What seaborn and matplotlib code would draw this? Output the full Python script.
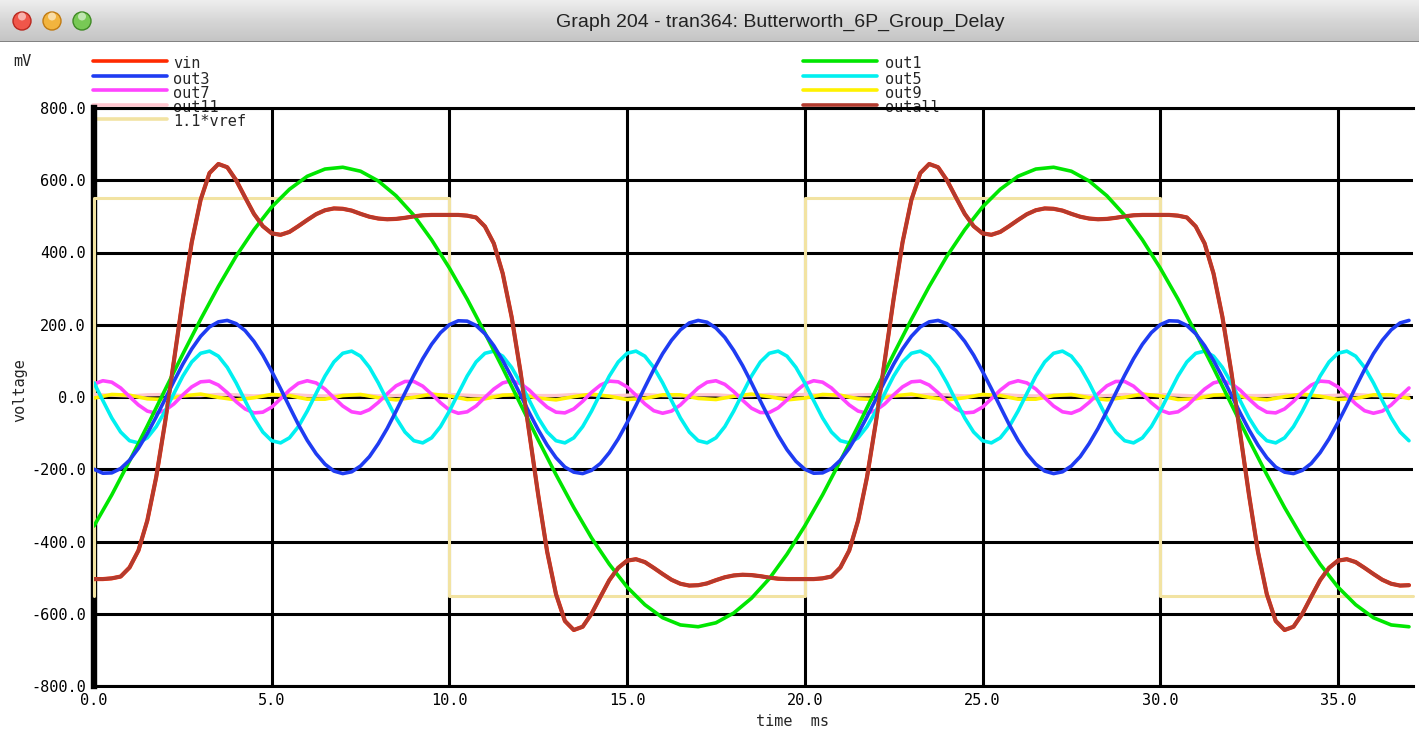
import numpy as np
import pandas as pd
import matplotlib
matplotlib.use("Agg")
import matplotlib.pyplot as plt
import seaborn as sns
from matplotlib.lines import Line2D
from matplotlib.patches import Circle
from matplotlib.colors import LinearSegmentedColormap

# ---- data (time in ms, voltage in mV) ----
# coarse series sampled every 0.5 ms, fine series every 0.25 ms
t_coarse = np.arange(0, 37.01, 0.5)
t_fine = np.arange(0, 37.01, 0.25)

out1 = [-357, -271, -177, -80, 20, 119, 215, 306, 390, 463, 526, 575, 611, 631, 636, 625, 598, 557, 503, 435,
        357, 271, 177, 80, -20, -119, -215, -306, -390, -463, -526, -575, -611, -631, -636, -625, -598, -557, -503, -435,
        -357, -271, -177, -80, 20, 119, 215, 306, 390, 463, 526, 575, 611, 631, 636, 625, 598, 557, 503, 435,
        357, 271, 177, 80, -20, -119, -215, -306, -390, -463, -526, -575, -611, -631, -636]

out3 = [-200, -211, -210, -198, -175, -142, -101, -55, -6, 44, 91, 133, 168, 194, 208, 212, 203, 184, 154, 116,
        71, 23, -27, -76, -120, -157, -186, -205, -212, -207, -191, -165, -129, -87, -39, 11, 60, 106, 146, 178,
        200, 211, 210, 198, 175, 142, 101, 55, 6, -44, -91, -133, -168, -194, -208, -212, -203, -184, -154, -116,
        -71, -23, 27, 76, 120, 157, 186, 205, 212, 207, 191, 165, 129, 87, 39, -11, -60, -106, -146, -178,
        -200, -211, -210, -198, -175, -142, -101, -55, -6, 44, 91, 133, 168, 194, 208, 212, 203, 184, 154, 116,
        71, 23, -27, -76, -120, -157, -186, -205, -212, -207, -191, -165, -129, -87, -39, 11, 60, 106, 146, 178,
        200, 211, 210, 198, 175, 142, 101, 55, 6, -44, -91, -133, -168, -194, -208, -212, -203, -184, -154, -116,
        -71, -23, 27, 76, 120, 157, 186, 205, 212]

out9 = [-3, 7, 5, -5, -7, 3, 8, -1, -8, -2, 7, 4, -6, -6, 4, 7, -2, -8, -1, 8,
        3, -7, -5, 5, 7, -3, -8, 1, 8, 2, -7, -4, 6, 6, -4, -7, 2, 8, 1, -8,
        -3, 7, 5, -5, -7, 3, 8, -1, -8, -2, 7, 4, -6, -6, 4, 7, -2, -8, -1, 8,
        3, -7, -5, 5, 7, -3, -8, 1, 8, 2, -7, -4, 6, 6, -4]

out11 = [7, 5, 3, 6, 7, 4, 4, 7, 6, 3, 5, 7, 4, 3, 6, 6, 3, 4, 7, 5,
         7, 5, 3, 6, 7, 4, 4, 7, 6, 3, 5, 7, 4, 3, 6, 6, 3, 4, 7, 5,
         7, 5, 3, 6, 7, 4, 4, 7, 6, 3, 5, 7, 4, 3, 6, 6, 3, 4, 7, 5,
         7, 5, 3, 6, 7, 4, 4, 7, 6, 3, 5, 7, 4, 3, 6]

out5 = [39, -10, -58, -97, -121, -127, -113, -82, -39, 10, 58, 97, 121, 127, 113, 82,
        39, -10, -58, -97, -121, -127, -113, -82, -39, 10, 58, 97, 121, 127, 113, 82,
        39, -10, -58, -97, -121, -127, -113, -82, -39, 10, 58, 97, 121, 127, 113, 82,
        39, -10, -58, -97, -121, -127, -113, -82, -39, 10, 58, 97, 121, 127, 113, 82,
        39, -10, -58, -97, -121, -127, -113, -82, -39, 10, 58, 97, 121, 127, 113, 82,
        39, -10, -58, -97, -121, -127, -113, -82, -39, 10, 58, 97, 121, 127, 113, 82,
        39, -10, -58, -97, -121, -127, -113, -82, -39, 10, 58, 97, 121, 127, 113, 82,
        39, -10, -58, -97, -121, -127, -113, -82, -39, 10, 58, 97, 121, 127, 113, 82,
        39, -10, -58, -97, -121, -127, -113, -82, -39, 10, 58, 97, 121, 127, 113, 82,
        39, -10, -58, -97, -121]

out7 = [36, 45, 41, 25, 1, -22, -39, -45, -37, -19, 6, 28, 42, 44, 33, 12, -13, -33, -44, -42,
        -28, -5, 19, 38, 45, 39, 22, -2, -25, -41, -45, -35, -15, 9, 31, 43, 43, 30, 8, -16,
        -36, -45, -41, -25, -1, 22, 39, 45, 37, 19, -6, -28, -42, -44, -33, -12, 13, 33, 44, 42,
        28, 5, -19, -38, -45, -39, -22, 2, 25, 41, 45, 35, 15, -9, -31, -43, -43, -30, -8, 16,
        36, 45, 41, 25, 1, -22, -39, -45, -37, -19, 6, 28, 42, 44, 33, 12, -13, -33, -44, -42,
        -28, -5, 19, 38, 45, 39, 22, -2, -25, -41, -45, -35, -15, 9, 31, 43, 43, 30, 8, -16,
        -36, -45, -41, -25, -1, 22, 39, 45, 37, 19, -6, -28, -42, -44, -33, -12, 13, 33, 44, 42,
        28, 5, -19, -38, -45, -39, -22, 2, 25]

outall = [-504, -504, -502, -497, -472, -425, -342, -222, -70, 100, 272, 428, 546, 620, 645, 636, 600, 553, 507, 473,
          453, 449, 457, 473, 490, 506, 517, 522, 521, 516, 507, 499, 494, 492, 493, 496, 500, 503, 504, 504,
          504, 504, 502, 497, 472, 425, 342, 222, 70, -100, -272, -428, -546, -620, -645, -636, -600, -553, -507, -473,
          -453, -449, -457, -473, -490, -506, -517, -522, -521, -516, -507, -499, -494, -492, -493, -496, -500, -503, -504, -504,
          -504, -504, -502, -497, -472, -425, -342, -222, -70, 100, 272, 428, 546, 620, 645, 636, 600, 553, 507, 473,
          453, 449, 457, 473, 490, 506, 517, 522, 521, 516, 507, 499, 494, 492, 493, 496, 500, 503, 504, 504,
          504, 504, 502, 497, 472, 425, 342, 222, 70, -100, -272, -428, -546, -620, -645, -636, -600, -553, -507, -473,
          -453, -449, -457, -473, -490, -506, -517, -522, -521]

# vin is hidden under outall in the reference, only its red fringe shows
vin = list(outall)

vref_t = [0, 0, 10, 10, 20, 20, 30, 30, 37.1]
vref_v = [-550, 550, 550, -550, -550, 550, 550, -550, -550]

colors = {
    "vin": "#ff2a00", "out3": "#1f3cf2", "out7": "#ff44ff", "out11": "#ffc6cf",
    "1.1*vref": "#f2e3a2", "out1": "#00e600", "out5": "#00f0f0", "out9": "#fff200",
    "outall": "#b23b2f",
}
left_names = ["vin", "out3", "out7", "out11", "1.1*vref"]
right_names = ["out1", "out5", "out9", "outall"]

# ---- figure ----
W, H = 1419, 736
sns.set_style("white")
plt.rcParams["font.family"] = ["DejaVu Sans Mono", "DejaVu Sans"]
MONO = "DejaVu Sans Mono"

fig = plt.figure(figsize=(W / 100, H / 100), dpi=100)
fig.patch.set_facecolor("white")


def fx(px):
    return px / W


def fy(py):
    return 1 - py / H


# window title bar
bar = fig.add_axes([0, fy(42), 1, 42 / H])
grad = np.linspace(0, 1, 60).reshape(-1, 1)
bar_cmap = LinearSegmentedColormap.from_list("bar", ["#eeeeee", "#d6d6d6", "#c4c4c4"])
bar.imshow(grad, aspect="auto", cmap=bar_cmap, extent=[0, W, 42, 0])
bar.set_xlim(0, W)
bar.set_ylim(42, 0)
bar.axis("off")
bar.axhline(41.5, color="#777777", lw=1.2)
for cx, c_out, c_in in [(22, "#b8281f", "#f0564a"), (52, "#c07a12", "#f2b43e"), (82, "#3f8a25", "#78c955")]:
    bar.add_patch(Circle((cx, 21), 9, facecolor=c_in, edgecolor=c_out, lw=1.0))
    bar.add_patch(Circle((cx, 16.5), 4, facecolor="white", edgecolor="none", alpha=0.55))
bar.text(780, 22, "Graph 204 - tran364: Butterworth_6P_Group_Delay", ha="center", va="center",
         fontsize=14, family="Liberation Sans", color="#222222")

# plot area
x_right = (1413 - 94) / 35.54
ax = fig.add_axes([fx(94), fy(686), fx(1413) - fx(94), (686 - 108) / H])
ax.set_facecolor("none")

sns.lineplot(x=vref_t, y=vref_v, ax=ax, color=colors["1.1*vref"], lw=2.2, sort=False,
             estimator=None, clip_on=False, zorder=2.0)
sns.lineplot(x=t_fine, y=vin, ax=ax, color=colors["vin"], lw=3.0, sort=False, estimator=None, zorder=2.1)
sns.lineplot(x=t_coarse, y=out11, ax=ax, color=colors["out11"], lw=2.4, sort=False, estimator=None, zorder=2.2)
sns.lineplot(x=t_coarse, y=out9, ax=ax, color=colors["out9"], lw=2.6, sort=False, estimator=None, zorder=2.3)
sns.lineplot(x=t_fine, y=out7, ax=ax, color=colors["out7"], lw=2.6, sort=False, estimator=None, zorder=2.4)
sns.lineplot(x=t_fine, y=out5, ax=ax, color=colors["out5"], lw=2.6, sort=False, estimator=None, zorder=2.5)
sns.lineplot(x=t_coarse, y=out1, ax=ax, color=colors["out1"], lw=2.6, sort=False, estimator=None, zorder=2.6)
sns.lineplot(x=t_fine, y=out3, ax=ax, color=colors["out3"], lw=2.6, sort=False, estimator=None, zorder=2.7)
sns.lineplot(x=t_fine, y=outall, ax=ax, color=colors["outall"], lw=2.6, sort=False, estimator=None, zorder=2.8)

ax.set_xlim(0, x_right)
ax.set_ylim(-800, 800)
xt = np.arange(0, 36, 5)
yt = np.arange(-800, 801, 200)
ax.set_xticks(xt)
ax.set_yticks(yt)
ax.set_xticklabels([f"{v:.1f}" for v in xt], family=MONO, fontsize=11)
ax.set_yticklabels([f"{v:.1f}" for v in yt], family=MONO, fontsize=11)
ax.tick_params(length=0, pad=6, colors="black")
ax.tick_params(axis="x", pad=5)
ax.grid(True, color="black", lw=2.2)
ax.set_axisbelow(True)
for side, lw in [("left", 4.6), ("top", 2.2), ("bottom", 2.2)]:
    ax.spines[side].set_linewidth(lw)
    ax.spines[side].set_color("black")
    ax.spines[side].set_zorder(1.5)
ax.spines["right"].set_visible(False)
ax.set_xlabel("")
ax.set_ylabel("")

# axis captions
fig.text(fx(22), fy(62), "mV", family=MONO, fontsize=11, ha="center", va="center")
fig.text(fx(20), fy(390), "voltage", family=MONO, fontsize=11, ha="center", va="center", rotation=90)
fig.text(fx(793), fy(721), "time  ms", family=MONO, fontsize=11, ha="center", va="center")

# legend, drawn beneath the plot frame like the original
row_y = [61, 76, 90, 105, 119]
for name, y in zip(left_names, row_y):
    fig.add_artist(Line2D([fx(93), fx(167)], [fy(y), fy(y)], color=colors[name], lw=2.6, zorder=-1))
    fig.text(fx(173), fy(y + 3), name, family=MONO, fontsize=11, ha="left", va="center", zorder=-1)
for name, y in zip(right_names, row_y):
    fig.add_artist(Line2D([fx(803), fx(877)], [fy(y), fy(y)], color=colors[name], lw=2.6, zorder=-1))
    fig.text(fx(885), fy(y + 3), name, family=MONO, fontsize=11, ha="left", va="center", zorder=-1)

plt.savefig("out.png", dpi=100)
